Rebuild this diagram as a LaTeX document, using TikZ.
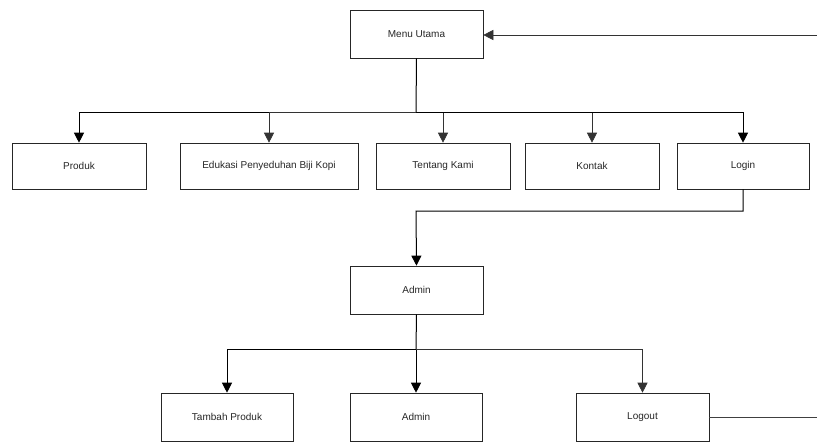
\documentclass[tikz,border=0pt]{standalone}
\usepackage{fontspec}
\setmainfont{Liberation Sans}
\usetikzlibrary{arrows.meta}
\begin{document}
\begin{tikzpicture}[x=1pt,y=-1pt,
  box/.style={draw=black!85,line width=0.6pt,rectangle,inner sep=0pt,font=\fontsize{10}{12}\selectfont,text=black!85},
  thick link/.style={draw=black,line width=1pt,-{Triangle[width=10pt,length=10pt]}},
  thin link/.style={draw=black!80,line width=0.6pt,-{Triangle[width=10pt,length=10pt]}},
  plain/.style={draw=black!75,line width=0.6pt}]
\useasboundingbox (0,0) rectangle (817,442);
\node[box,minimum width=133pt,minimum height=48pt] (menu) at (416.5,34) {Menu Utama};
\node[box,minimum width=134pt,minimum height=46pt] (produk) at (79,166) {Produk};
\node[box,minimum width=178pt,minimum height=46pt] (edukasi) at (269,166) {Edukasi Penyeduhan Biji Kopi};
\node[box,minimum width=134pt,minimum height=46pt] (tentang) at (443,166) {Tentang Kami};
\node[box,minimum width=134pt,minimum height=46pt] (kontak) at (592,166) {Kontak};
\node[box,minimum width=132pt,minimum height=46pt] (login) at (743,166) {Login};
\node[box,minimum width=133pt,minimum height=48pt] (admin) at (416.5,290) {Admin};
\node[box,minimum width=132pt,minimum height=48pt] (tambah) at (227,417) {Tambah Produk};
\node[box,minimum width=132pt,minimum height=48pt] (admintwo) at (416,417) {Admin};
\node[box,minimum width=133pt,minimum height=48pt] (logout) at (642.5,417) {Logout};
\coordinate (back) at (817,35);
\coordinate (out) at (817,417);
\coordinate (top) at (416,112);
\coordinate (mid) at (416,211);
\coordinate (low) at (416,349);
% return arrow into Menu Utama
\draw[thin link] (back) -- (menu.east |- back);
% Menu Utama to first level
\draw[draw=black,line width=1pt] (menu.south) -- (top);
\draw[thick link] (top) -| (produk.north);
\draw[thin link] (top) -| (edukasi.north);
\draw[thin link] (top) -| (tentang.north);
\draw[thin link] (top) -| (kontak.north);
\draw[thick link] (top) -| (login.north);
% Login to Admin
\draw[thick link] (login.south) |- (mid) -- (admin.north);
% Admin to second level
\draw[draw=black,line width=1pt] (admin.south) -- (low);
\draw[thick link] (low) -| (tambah.north);
\draw[thick link] (low) -- (admintwo.north);
\draw[thin link] (low) -| (logout.north);
\draw[plain] (logout.east) -- (out);
\end{tikzpicture}
\end{document}
